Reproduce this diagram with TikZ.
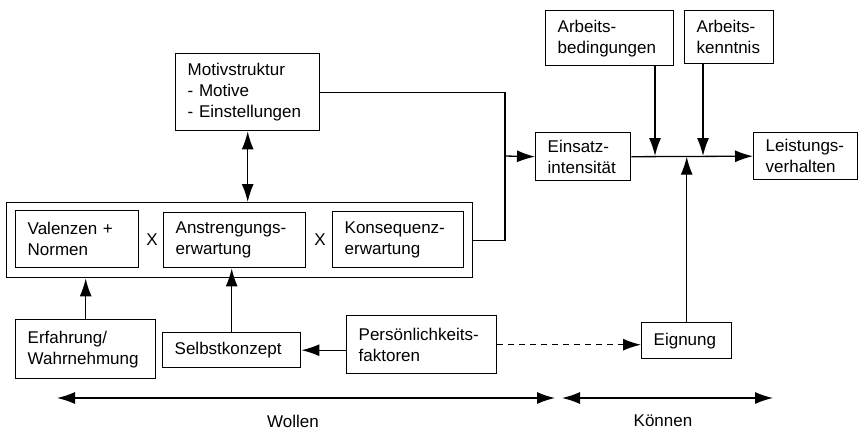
\documentclass[tikz,border=0pt]{standalone}
\usepackage{fontspec}
\setmainfont{Liberation Sans}
\usetikzlibrary{arrows.meta}
\tikzset{
  >={Latex[length=18pt,width=12pt]},
  kasten/.style={draw, line width=1.4pt, align=left, anchor=north west,
    inner xsep=12pt, inner ysep=2pt, font=\fontsize{17pt}{21pt}\selectfont},
  linie/.style={line width=1.3pt},
  pfeil/.style={linie, ->},
  label/.style={font=\fontsize{17pt}{21pt}\selectfont}
}

\begin{document}
\begin{tikzpicture}[x=1pt,y=-1pt]
		%%%%% START %%%%%
		\useasboundingbox (0,0) rectangle (859,431);
		
		% Wollen
		\node[kasten, text width=120pt, minimum height=77pt] (motiv) at (175,53) {Motivstruktur\\- Motive\\- Einstellungen};
		\node[kasten, minimum width=466pt, minimum height=75pt, inner sep=0pt] (rahmen) at (6,202) {};
		\node[kasten, text width=99pt, minimum height=57pt] (valenz) at (15,210) {Valenzen +\\Normen};
		\node[kasten, text width=118pt, minimum height=55pt] (anstr) at (163,212) {Anstrengungs-\\erwartung};
		\node[kasten, text width=107pt, minimum height=56pt] (konseq) at (332,211) {Konsequenz-\\erwartung};
		\node[label] (x1) at (152,240) {X};
		\node[label] (x2) at (320,240) {X};
		
		\node[kasten, text width=116pt, minimum height=59pt] (erfahr) at (15,319) {Erfahrung/\\Wahrnehmung};
		\node[kasten, text width=114pt, minimum height=35pt] (selbst) at (162,332) {Selbstkonzept};
		\node[kasten, text width=126pt, minimum height=58pt] (person) at (346,315) {Persönlichkeits-\\faktoren};
		
		% Koennen
		\node[kasten, text width=71pt, minimum height=48pt] (einsatz) at (535,132) {Einsatz-\\intensität};
		\node[kasten, text width=104pt, minimum height=55pt] (arbbed) at (545,10) {Arbeits-\\bedingungen};
		\node[kasten, text width=65pt, minimum height=53pt] (arbkennt) at (684,10) {Arbeits-\\kenntnis};
		\node[kasten, text width=80pt, minimum height=47pt] (leist) at (753,132) {Leistungs-\\verhalten};
		\node[kasten, text width=66pt, minimum height=36pt] (eignung) at (641,322) {Eignung};
		
		% Verbindungen
		\coordinate (knick) at (505,156);
		\coordinate (m1) at (655,156);
		\coordinate (m2) at (703,156);
		\draw[linie, <->] (motiv.south) -- (motiv.south |- rahmen.north);
		\draw[linie] (motiv.east) -| (knick) |- (rahmen.east);
		\draw[pfeil] (knick) -- (einsatz.west);
		\draw[pfeil] (erfahr.north) -- (erfahr.north |- rahmen.south);
		\draw[pfeil] (selbst.north) -- (selbst.north |- anstr.south);
		\draw[pfeil] (person.west |- selbst.east) -- (selbst.east);
		\draw[pfeil, dash pattern=on 6pt off 5pt] (person.east) -- (person.east -| eignung.west);
		\draw[pfeil] (einsatz.east) -- (leist.west);
		\draw[pfeil] (arbbed.south -| m1) -- (m1);
		\draw[pfeil] (arbkennt.south -| m2) -- (m2);
		\draw[pfeil] (eignung.north) -- (eignung.north |- einsatz.east);
		
		% Wollen / Koennen
		\coordinate (w1) at (57,398);
		\coordinate (w2) at (555,398);
		\coordinate (k1) at (562,398);
		\coordinate (k2) at (773,398);
		\draw[linie, <->] (w1) -- (w2);
		\draw[linie, <->] (k1) -- (k2);
		\node[label] (wollen) at (293,421) {Wollen};
		\node[label] (koennen) at (663,421) {Können};
		%%%%% END %%%%%
	\end{tikzpicture}
\end{document}
